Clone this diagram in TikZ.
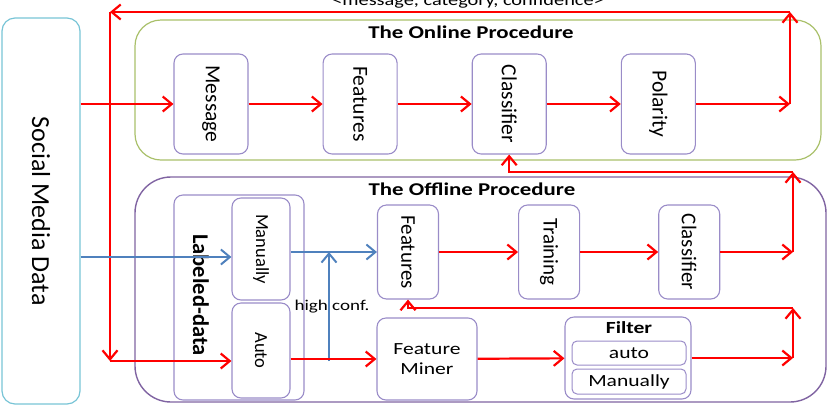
\documentclass[tikz,border=0pt]{standalone}
\usepackage{fontspec}
\setmainfont{Carlito}
\usepackage{graphicx}
\usepackage{tikz}
\usetikzlibrary{positioning}
\usetikzlibrary{arrows.meta,calc}
\definecolor{flowred}{HTML}{FF0000}
\definecolor{flowblue}{HTML}{4F81BD}
\definecolor{onlinegreen}{HTML}{A9C06A}
\definecolor{offlinepurple}{HTML}{8064A2}
\definecolor{boxline}{HTML}{9A8CC8}
\definecolor{mediacyan}{HTML}{78C4D6}
\newcommand{\widetext}[1]{\scalebox{1.27}[1]{#1}}
\newcommand{\vtext}[1]{\rotatebox{-90}{#1}}
\tikzset{
	semithick,
	procbox/.style = {draw=boxline, line width=1.1pt, rounded corners=9pt, inner sep=0pt,
		minimum width=74pt, minimum height=100pt, font=\fontsize{21.5}{24}\selectfont},
	offbox/.style = {procbox, minimum width=61pt, minimum height=94pt, font=\fontsize{21}{24}\selectfont},
	databox/.style = {procbox, minimum width=58pt, font=\fontsize{18.5}{22}\selectfont},
	smallbox/.style = {draw=boxline, line width=1pt, rounded corners=5pt, inner sep=0pt,
		minimum width=114pt, minimum height=24pt, font=\fontsize{17}{20}\selectfont},
	proctitle/.style = {font=\fontsize{18}{20}\selectfont\bfseries},
	flow/.style = {draw=flowred, line width=2.2pt, -{Straight Barb[length=9pt,width=15pt]}},
	blueflow/.style = {flow, draw=flowblue, line width=2pt},
}
\begin{document}
\begin{tikzpicture}[x=1pt, y=-1pt, node distance=74pt and 74pt]
	\useasboundingbox (0,0) rectangle (837,408);
	% procedure frames
	\node (Online) [draw=onlinegreen, line width=1.2pt, rounded corners=26pt,
		minimum width=686pt, minimum height=140pt] at (478,90) {};
	\node (Offline) [draw=offlinepurple, line width=1.4pt, rounded corners=36pt,
		minimum width=691pt, minimum height=225pt] at (480.5,289.5) {};
	\node (OnlineTitle) [proctitle] at (471,32) {\widetext{The Online Procedure}};
	\node (OfflineTitle) [proctitle] at (472,189) {\widetext{The Offline Procedure}};
	\node (SocialMedia) [draw=mediacyan, line width=1.2pt, rounded corners=13pt,
		minimum width=78pt, minimum height=386pt, font=\fontsize{26}{30}\selectfont] at (41,211) {\vtext{Social Media Data}};
	% online
	\node (Message) [procbox] at (211,104) {\vtext{Message}};
	\node (OnFeatures) [procbox, right = of Message] {\vtext{Features}};
	\node (OnClassifier) [procbox, right = of OnFeatures] {\vtext{Classifier}};
	\node (Polarity) [procbox, right = of OnClassifier] {\vtext{Polarity}};
	% offline
	\node (Labeled) [procbox, minimum width=130pt, minimum height=205pt] at (239,297.5) {};
	\node (LabeledText) [font=\fontsize{22.5}{24}\selectfont\bfseries] at (201,295) {\vtext{Labeled-data}};
	\node (Manually) [databox, minimum height=102pt] at (261,249) {\vtext{Manually}};
	\node (Auto) [databox, minimum height=95pt] at (261,350.5) {\vtext{Auto}};
	\node (OffFeatures) [offbox] at (408,252) {\vtext{Features}};
	\node (Training) [offbox, right = 79pt of OffFeatures] {\vtext{Training}};
	\node (OffClassifier) [offbox, right = 78pt of Training] {\vtext{Classifier}};
	\node (Miner) [procbox, minimum width=100pt, minimum height=82pt, font=\fontsize{17}{20}\selectfont,
		align=center] at (427,359) {\widetext{Feature}\\\widetext{Miner}};
	\node (Filter) [procbox, minimum width=126pt, minimum height=82pt] at (628,358) {};
	\node (FilterTitle) [font=\fontsize{17}{20}\selectfont\bfseries] at (629,328) {\widetext{Filter}};
	\node (FilterAuto) [smallbox] at (629,353) {\widetext{auto}};
	\node (FilterManual) [smallbox, minimum height=25pt] at (629,381.5) {\widetext{Manually}};
	\node (OutLabel) [anchor=base, font=\fontsize{16}{20}\selectfont] at (468,5) {\widetext{<message, category, confidence>}};
	\coordinate (TopRight) at (790,12);
	\coordinate (TopLeft) at (110,12);
	\coordinate (BotLeft) at (110,361);
	\coordinate (ClsTop) at (793,172);
	\coordinate (FilTop) at (793,308);
	\coordinate (HighConf) at (329,361);
	% online flow
	\draw[flow] (SocialMedia.east |- Message.west) -- (Message.west);
	\draw[flow] (Message) -- (OnFeatures);
	\draw[flow] (OnFeatures) -- (OnClassifier);
	\draw[flow] (OnClassifier) -- (Polarity);
	\draw[flow] (Polarity) -- (Polarity -| TopRight);
	\draw[flow] (Polarity -| TopRight) -- (TopRight);
	\draw[flow] (TopRight) -- (TopLeft);
	\draw[flow] (TopLeft) -- (BotLeft);
	\draw[flow] (BotLeft) -- (BotLeft -| Auto.west);
	% offline flow
	\draw[blueflow] ([yshift=-8pt]Manually.west -| SocialMedia.east) -- ([yshift=-8pt]Manually.west);
	\draw[blueflow] (Manually.east |- OffFeatures.west) -- (OffFeatures.west);
	\draw[blueflow] (HighConf) -- (HighConf |- OffFeatures.west);
	\node (HighConfText) [font=\fontsize{15}{18}\selectfont] at (332,307) {\widetext{high conf.}};
	\draw[flow] (Auto.east |- Miner.west) -- (Miner.west);
	\draw[flow] (OffFeatures) -- (Training);
	\draw[flow] (Training) -- (OffClassifier);
	\draw[flow] (OffClassifier) -- (ClsTop |- OffClassifier);
	\draw[flow] (ClsTop |- OffClassifier) -- (ClsTop);
	\draw[flow] (ClsTop) -| (OnClassifier.south);
	\draw[flow] (Miner) -- (Filter);
	\draw[flow] (Filter) -- (FilTop |- Filter);
	\draw[flow] (FilTop |- Filter) -- (FilTop);
	\draw[flow] (FilTop) -| (OffFeatures.south);
\end{tikzpicture}
\end{document}
